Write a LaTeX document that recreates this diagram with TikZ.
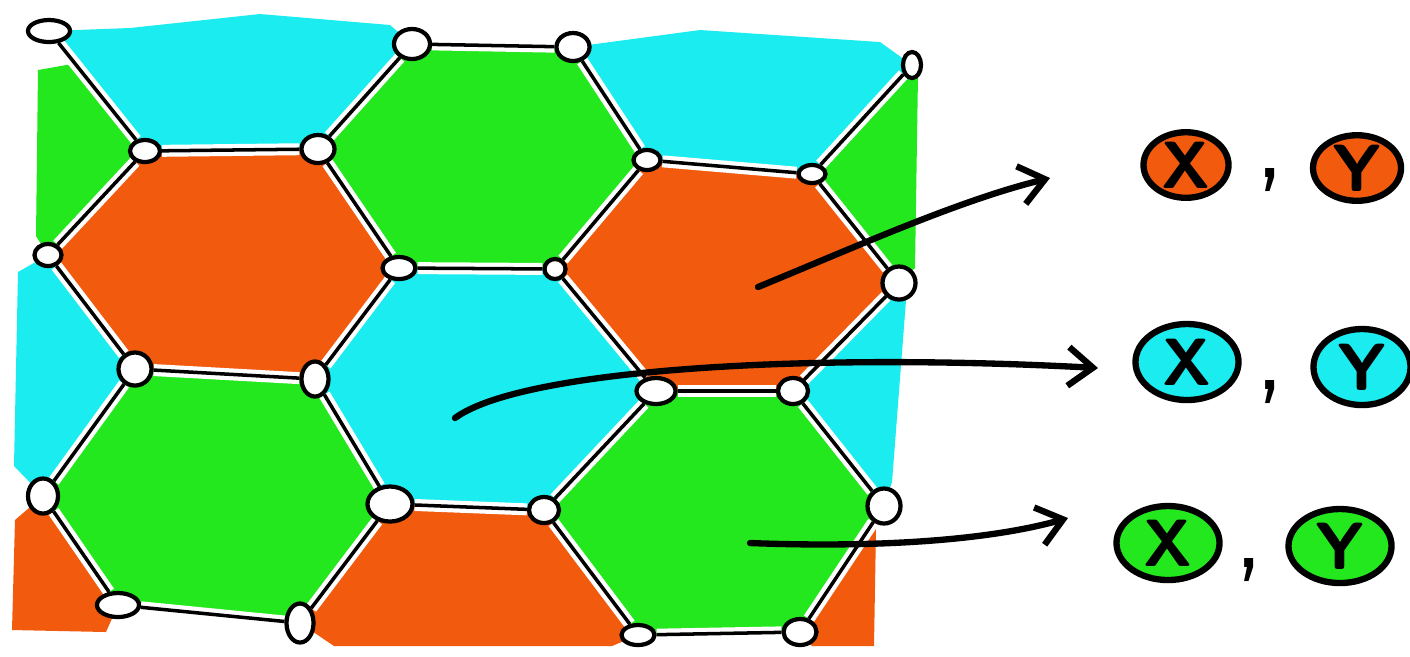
\documentclass[tikz,border=0pt]{standalone}
\usetikzlibrary{shapes.geometric,arrows.meta,backgrounds}
\definecolor{orng}{RGB}{242,90,14}
\definecolor{cyn}{RGB}{26,236,240}
\definecolor{grn}{RGB}{36,232,30}
\tikzset{
  site/.style={draw, ellipse, line width=1.2pt, fill=white, inner sep=0pt},
  bond/.style={line width=1pt},
  halo/.style={white, line width=3.4pt},
  pointer/.style={line width=1.8pt, line cap=round, -{Straight Barb[length=7pt,width=11pt]}},
  lab/.style={draw, ellipse, line width=1.8pt, inner sep=0pt, font=\sffamily\bfseries\fontsize{19}{19}\selectfont},
  sep/.style={inner sep=0pt, font=\sffamily\fontsize{32}{32}\selectfont}
}
\def\bonds{a1/b1, b1/b2, b2/a2, a2/a3, a3/b3, b3/b4, b4/a4,
  b1/c1, b2/c2, b3/c3, b4/c4, c1/d1, c2/d2, c2/c3, c3/d3, c4/d4,
  d1/d2, d3/d4, d1/e1, d2/e2, d3/e3, d4/e4, e2/e3,
  e1/f1, e2/f2, e3/f3, e4/f4, f1/f2, f3/f4}
\begin{document}
\begin{tikzpicture}[x=0.01cm, y=-0.01cm]
    \useasboundingbox (0,0) rectangle (1410,656);
    % lattice sites
    \foreach \n/\x/\y/\w/\h in {a1/49/31/4.2/2.2, a2/412/44/3.6/3.0, a3/573/47/3.3/2.8, a4/912/65/1.8/2.6,
        b1/145/151/3.0/2.2, b2/318/149/3.3/2.8, b3/647/160/2.7/2.0, b4/812/174/2.7/1.8,
        c1/48/255/2.7/2.2, c2/399/268/3.3/2.2, c3/555/269/2.1/2.0, c4/899/283/3.3/3.3,
        d1/135/369/3.3/3.3, d2/315/379/2.7/3.5, d3/656/391/3.9/2.6, d4/793/391/3.0/2.6,
        e1/43/496/3.0/3.5, e2/390/504/4.5/3.5, e3/544/510/3.0/2.6, e4/884/506/3.3/3.5,
        f1/118/605/4.2/2.4, f2/300/623/2.7/3.9, f3/638/635/3.3/2.0, f4/800/632/3.3/2.6}
        \node[site, minimum width=\w mm, minimum height=\h mm] (\n) at (\x,\y) {};
    \begin{pgfonlayer}{background}
        % whole cells
        \fill[orng] (b1.center) -- (b2.center) -- (c2.center) -- (d2.center) -- (d1.center) -- (c1.center) -- cycle;
        \fill[orng] (b3.center) -- (b4.center) -- (c4.center) -- (d4.center) -- (d3.center) -- (c3.center) -- cycle;
        \fill[grn] (a2.center) -- (a3.center) -- (b3.center) -- (c3.center) -- (c2.center) -- (b2.center) -- cycle;
        \fill[cyn] (c2.center) -- (c3.center) -- (d3.center) -- (e3.center) -- (e2.center) -- (d2.center) -- cycle;
        \fill[grn] (d1.center) -- (d2.center) -- (e2.center) -- (f2.center) -- (f1.center) -- (e1.center) -- cycle;
        \fill[grn] (d3.center) -- (d4.center) -- (e4.center) -- (f4.center) -- (f3.center) -- (e3.center) -- cycle;
        % cut cells at the border
        \fill[cyn] (a1.center) -- (130,28) -- (260,14) -- (390,25) -- (a2.center) -- (b2.center) -- (b1.center) -- cycle;
        \fill[cyn] (a3.center) -- (700,30) -- (880,42) -- (a4.center) -- (b4.center) -- (b3.center) -- cycle;
        \fill[grn] (38,70) -- (72,64) -- (b1.center) -- (c1.center) -- (36,236) -- cycle;
        \fill[grn] (a4.center) -- (918,75) -- (915,268) -- (c4.center) -- (b4.center) -- cycle;
        \fill[cyn] (c1.center) -- (d1.center) -- (e1.center) -- (14,466) -- (18,272) -- cycle;
        \fill[cyn] (c4.center) -- (906,300) -- (892,482) -- (e4.center) -- (d4.center) -- cycle;
        \fill[orng] (e1.center) -- (f1.center) -- (106,632) -- (12,630) -- (15,520) -- cycle;
        \fill[orng] (e2.center) -- (e3.center) -- (f3.center) -- (612,646) -- (334,646) -- (f2.center) -- cycle;
        \fill[orng] (e4.center) -- (876,528) -- (874,646) -- (812,646) -- (f4.center) -- cycle;
        \foreach \p/\q in \bonds
            \draw[halo] (\p) -- (\q);
    \end{pgfonlayer}
    \foreach \p/\q in \bonds
        \draw[bond] (\p) -- (\q);

    % pointers
    \coordinate (po) at (758,287);
    \coordinate (pc) at (455,418);
    \coordinate (pg) at (750,543);
    \coordinate (to) at (1050,178);
    \coordinate (tc) at (1098,368);
    \coordinate (tg) at (1068,518);
    \draw[pointer] (po) .. controls (860,245) and (960,200) .. (to);
    \draw[pointer] (pc) .. controls (520,370) and (800,352) .. (tc);
    \draw[pointer] (pg) .. controls (880,548) and (990,540) .. (tg);

    % labels
    \node[lab, fill=orng, minimum width=0.85cm, minimum height=0.6cm] (xo) at (1186,165) {X};
    \node[lab, fill=orng, minimum width=0.88cm, minimum height=0.6cm] (yo) at (1357,168) {Y};
    \node[lab, fill=cyn, minimum width=1.03cm, minimum height=0.76cm] (xc) at (1187,362) {X};
    \node[lab, fill=cyn, minimum width=0.97cm, minimum height=0.76cm] (yc) at (1362,367) {Y};
    \node[lab, fill=grn, minimum width=1.03cm, minimum height=0.74cm] (xg) at (1168,543) {X};
    \node[lab, fill=grn, minimum width=1.03cm, minimum height=0.74cm] (yg) at (1340,546) {Y};
    \node[sep] (ko) at (1270,180) {,};
    \node[sep] (kc) at (1270,392) {,};
    \node[sep] (kg) at (1249,570) {,};
\end{tikzpicture}
\end{document}
